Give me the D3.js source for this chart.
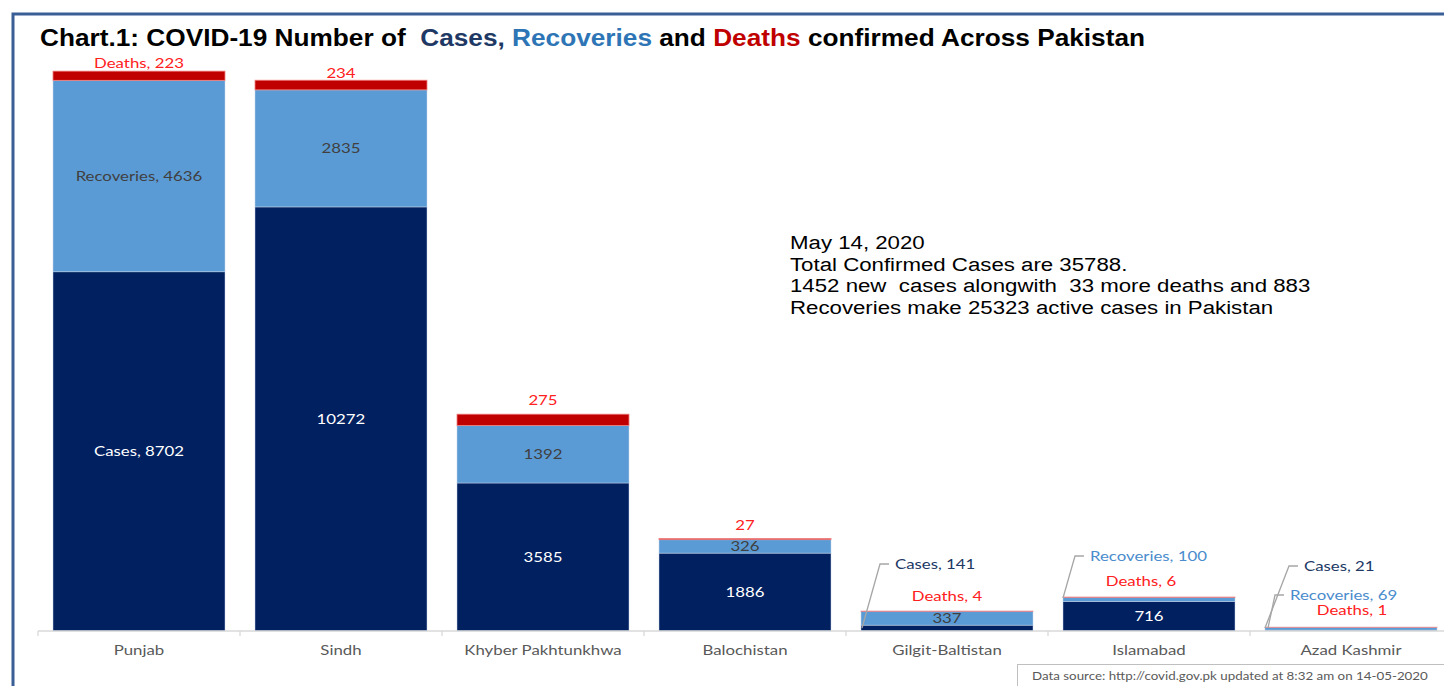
<!DOCTYPE html>
<html>
<head>
<meta charset="utf-8">
<script src="https://cdn.jsdelivr.net/npm/d3@7"></script>
<style>
html,body{margin:0;padding:0;background:#fff;}
svg{display:block;}
</style>
</head>
<body>
<svg id="chart" width="1444" height="686"></svg>
<script>
// ---- data ----
const categories = ["Punjab", "Sindh", "Khyber Pakhtunkhwa", "Balochistan", "Gilgit-Baltistan", "Islamabad", "Azad Kashmir"];
const cases      = [8702, 10272, 3585, 1886, 141, 716, 21];
const recoveries = [4636, 2835, 1392, 326, 337, 100, 69];
const deaths     = [223, 234, 275, 27, 4, 6, 1];
const seriesNames = ["Cases", "Recoveries", "Deaths"];
const yMax = 14000;
const titleParts = ["Chart.1: COVID-19 Number of  ", "Cases,", " ", "Recoveries", " and ", "Deaths", " confirmed Across Pakistan"];
const noteLines = ["May 14, 2020", "Total Confirmed Cases are 35788.", "1452 new  cases alongwith  33 more deaths and 883", "Recoveries make 25323 active cases in Pakistan"];
const sourceText = "Data source: http://covid.gov.pk updated at 8:32 am on 14-05-2020";

// ---- styles / layout ----
const colors = {Cases: "#002060", Recoveries: "#5b9bd5", Deaths: "#c00000"};
const labelColors = {Cases: "#203864", Recoveries: "#4a8ccd", Deaths: "#ff2020"};
const titleColors = ["#000", "#203864", "#000", "#2e75b6", "#000", "#c00000", "#000"];
const labelFont = "Lato, 'Open Sans', sans-serif";
const STRETCH = 1.2;

function stretch(sel, k) {
  sel.each(function() {
    const w = this.getComputedTextLength();
    d3.select(this).attr("textLength", w * k).attr("lengthAdjust", "spacingAndGlyphs");
  });
  return sel;
}

const svg = d3.select("#chart");

// frame
svg.append("path").attr("d", "M13,690 L13,14 L1446,14").attr("fill", "none")
  .attr("stroke", "#3a5f96").attr("stroke-width", 3);

const x = d3.scaleBand().domain(categories).range([38, 1452]).paddingInner(0.1485).paddingOuter(0.07425);
const y = d3.scaleLinear().domain([0, yMax]).range([631, 53]);

const rows = categories.map((c, i) => ({cat: c, Cases: cases[i], Recoveries: recoveries[i], Deaths: deaths[i]}));
const stacked = d3.stack().keys(seriesNames)(rows);

// bars
const g = svg.append("g");
stacked.forEach(layer => {
  g.selectAll(null).data(layer).enter().append("rect")
    .attr("x", d => x(d.data.cat))
    .attr("width", x.bandwidth())
    .attr("y", d => y(d[1]))
    .attr("height", d => Math.max(0, y(d[0]) - y(d[1])))
    .attr("fill", colors[layer.key])
    .attr("stroke", layer.key === "Deaths" ? "#f08080" : "rgba(200,215,235,0.6)")
    .attr("stroke-width", 0.8);
});

// axis
const axisG = svg.append("g").attr("transform", "translate(0,631)");
axisG.append("line").attr("x1", 38).attr("x2", 1444).attr("y1", 0).attr("y2", 0).attr("stroke", "#d9d9d9").attr("stroke-width", 1.3);
const step = x.step();
const bounds = d3.range(categories.length + 1).map(i => x.range()[0] + i * step);
axisG.selectAll(".tk").data(bounds).enter().append("line")
  .attr("x1", d => d).attr("x2", d => d).attr("y1", 0).attr("y2", 5)
  .attr("stroke", "#d9d9d9").attr("stroke-width", 1.3);
stretch(axisG.selectAll(".cl").data(categories).enter().append("text")
  .attr("x", d => x(d) + x.bandwidth() / 2).attr("y", 24)
  .attr("text-anchor", "middle").attr("font-family", labelFont).attr("font-size", 14)
  .attr("fill", "#595959").text(d => d), STRETCH);

// data labels (layout rules, pixel offsets relative to bar left edge / baseline)
const labelLayout = {
  "Punjab":            {Cases: {mode: "in", name: true}, Recoveries: {mode: "in", name: true}, Deaths: {mode: "top", name: true, off: 8}},
  "Sindh":             {Cases: {mode: "in"}, Recoveries: {mode: "in"}, Deaths: {mode: "top", off: 7}},
  "Khyber Pakhtunkhwa":{Cases: {mode: "in"}, Recoveries: {mode: "in"}, Deaths: {mode: "top", off: 14}},
  "Balochistan":       {Cases: {mode: "in"}, Recoveries: {mode: "in"}, Deaths: {mode: "top", off: 14}},
  "Gilgit-Baltistan":  {Cases: {mode: "lead", name: true, tx: 29, ty: -67, lx: 1, ly: -3},
                        Recoveries: {mode: "in"},
                        Deaths: {mode: "free", name: true, dx: 86, ty: -35}},
  "Islamabad":         {Cases: {mode: "in"},
                        Recoveries: {mode: "lead", name: true, tx: 22, ty: -75, lx: 0, ly: -33},
                        Deaths: {mode: "free", name: true, dx: 78, ty: -50}},
  "Azad Kashmir":      {Cases: {mode: "lead", name: true, tx: 34, ty: -65, lx: 0, ly: -3},
                        Recoveries: {mode: "lead", name: true, tx: 20, ty: -36, lx: 3, ly: -3},
                        Deaths: {mode: "free", name: true, dx: 87, ty: -21}}
};
const inColors = {Cases: "#ffffff", Recoveries: "#404040", Deaths: "#ff2020"};
const lg = svg.append("g").attr("font-family", labelFont).attr("font-size", 14);
stacked.forEach(layer => {
  layer.forEach(d => {
    const cat = d.data.cat;
    const L = labelLayout[cat][layer.key];
    const val = d.data[layer.key];
    const txt = (L.name ? layer.key + ", " : "") + val;
    const x0 = x(cat), cx = x0 + x.bandwidth() / 2;
    const base = y(0);
    let t;
    if (L.mode === "in") {
      t = lg.append("text").attr("x", cx).attr("y", (y(d[0]) + y(d[1])) / 2)
        .attr("dy", "0.36em").attr("text-anchor", "middle")
        .attr("fill", inColors[layer.key]).text(txt);
    } else if (L.mode === "top") {
      t = lg.append("text").attr("x", cx).attr("y", y(d[1]) - L.off).attr("dy", "0.36em")
        .attr("text-anchor", "middle").attr("fill", labelColors.Deaths).text(txt);
    } else if (L.mode === "free") {
      t = lg.append("text").attr("x", x0 + L.dx).attr("y", base + L.ty).attr("dy", "0.36em")
        .attr("text-anchor", "middle").attr("fill", labelColors[layer.key]).text(txt);
    } else if (L.mode === "lead") {
      const sx = x0 + L.lx, sy = base + L.ly;
      const ex = x0 + L.tx, ey = base + L.ty;
      lg.append("path").attr("d", `M${sx},${sy} L${ex - 10},${ey} L${ex - 1},${ey}`)
        .attr("fill", "none").attr("stroke", "#a6a6a6").attr("stroke-width", 1.3);
      t = lg.append("text").attr("x", ex + 5).attr("y", ey).attr("dy", "0.36em")
        .attr("fill", labelColors[layer.key]).text(txt);
    }
    stretch(t, STRETCH);
  });
});

// title
const t = svg.append("text").attr("x", 40).attr("y", 46)
  .attr("font-family", "'Liberation Sans', Arial, sans-serif").attr("font-weight", "bold")
  .attr("font-size", 23.5).style("white-space", "pre");
titleParts.forEach((p, i) => t.append("tspan").attr("fill", titleColors[i]).text(p));
t.attr("textLength", 1105).attr("lengthAdjust", "spacingAndGlyphs");

// annotation
const n = svg.append("g").attr("font-family", "'Liberation Sans', Arial, sans-serif")
  .attr("font-size", 18).attr("fill", "#000");
noteLines.forEach((l, i) => {
  stretch(n.append("text").attr("x", 790).attr("y", 249 + i * 21.7).style("white-space", "pre").text(l), 1.235);
});

// source box
svg.append("rect").attr("x", 1017.5).attr("y", 664.5).attr("width", 440).attr("height", 30)
  .attr("fill", "#fff").attr("stroke", "#bfbfbf");
stretch(svg.append("text").attr("x", 1032).attr("y", 680).attr("font-family", labelFont)
  .attr("font-size", 11.5).attr("fill", "#595959").text(sourceText), 1.16);
</script>
</body>
</html>
